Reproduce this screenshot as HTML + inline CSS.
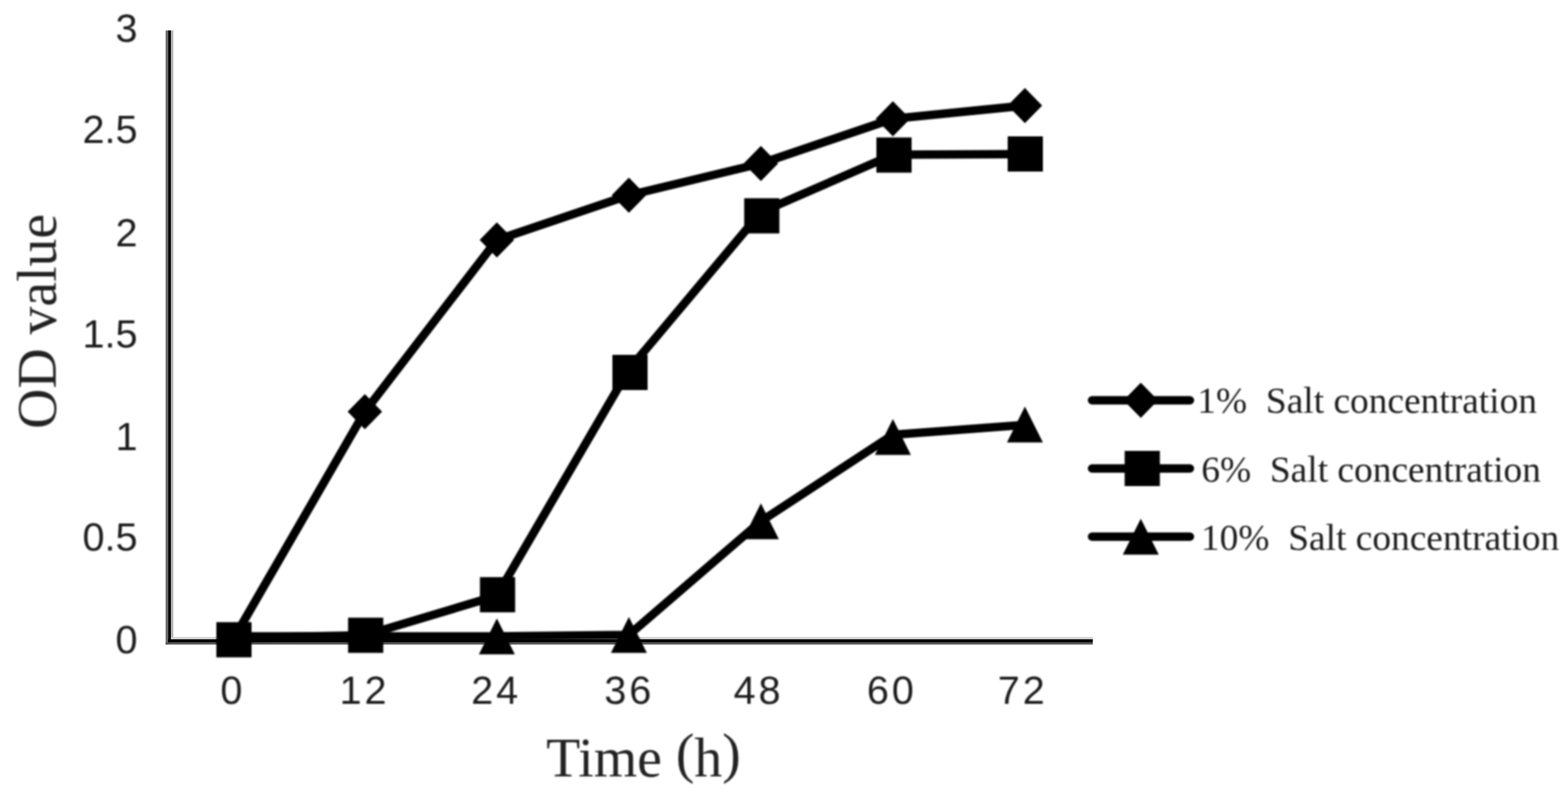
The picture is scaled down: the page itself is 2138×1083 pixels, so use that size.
<!DOCTYPE html>
<html lang="en">
<head>
<meta charset="utf-8">
<title>OD value vs Time (h) at different salt concentrations</title>
<style>
  html, body { margin: 0; padding: 0; background: #ffffff; }
  body { width: 2138px; height: 1083px; overflow: hidden; }
  svg { display: block; }
  .tick { font-family: "Liberation Sans", "DejaVu Sans", sans-serif; font-size: 54px; fill: #1c1c1c; }
  .xt { letter-spacing: 4px; }
  .title { font-family: "Liberation Serif", "DejaVu Serif", serif; font-size: 76px; fill: #222222; }
  .legend { font-family: "Liberation Serif", "DejaVu Serif", serif; font-size: 51px; fill: #1c1c1c; }
  .series { fill: none; stroke: #000; stroke-width: 11.5; stroke-linejoin: round; stroke-linecap: round; }
  .marker { fill: #000; stroke: none; }
  .axis { fill: #000; }
</style>
</head>
<body>
<svg width="2138" height="1083" viewBox="0 0 2138 1083">
<defs>
<filter id="soft" filterUnits="userSpaceOnUse" x="0" y="0" width="2138" height="1083" color-interpolation-filters="sRGB">
<feGaussianBlur stdDeviation="1.3"/>
</filter>
<filter id="soft2" filterUnits="userSpaceOnUse" x="0" y="0" width="2138" height="1083" color-interpolation-filters="sRGB">
<feGaussianBlur stdDeviation="0.6"/>
</filter>
</defs>
<rect x="0" y="0" width="2138" height="1083" fill="#ffffff"/>
<g id="chart">

<g id="axes" filter="url(#soft2)">
<rect x="225.8" y="41.5" width="3.5" height="837.7" fill="#6c6c6c"/>
<rect x="233" y="41.5" width="3.3" height="830.5" fill="#b0b0b0"/>
<rect x="229.2" y="868.9" width="1260.8" height="3.2" fill="#d0d0d0"/>
<rect x="225.8" y="876" width="1264.2" height="3.2" fill="#5a5a5a"/>
<rect x="229.2" y="41.5" width="3.8" height="834.6" fill="#000"/>
<rect x="229.2" y="872" width="1260.8" height="4.1" fill="#000"/>
</g>
<g id="content" filter="url(#soft)">
<text class="tick" x="187.5" y="890.7" text-anchor="end">0</text>
<text class="tick" x="187.5" y="750.7" text-anchor="end">0.5</text>
<text class="tick" x="187.5" y="613.7" text-anchor="end">1</text>
<text class="tick" x="187.5" y="473.7" text-anchor="end">1.5</text>
<text class="tick" x="187.5" y="336.2" text-anchor="end">2</text>
<text class="tick" x="187.5" y="195.0" text-anchor="end">2.5</text>
<text class="tick" x="187.5" y="56.7" text-anchor="end">3</text>
<text class="tick xt" x="317.4" y="959.5" text-anchor="middle">0</text>
<text class="tick xt" x="497.1" y="959.5" text-anchor="middle">12</text>
<text class="tick xt" x="676.5" y="959.5" text-anchor="middle">24</text>
<text class="tick xt" x="858.0" y="959.5" text-anchor="middle">36</text>
<text class="tick xt" x="1034.3" y="959.5" text-anchor="middle">48</text>
<text class="tick xt" x="1216.1" y="959.5" text-anchor="middle">60</text>
<text class="tick xt" x="1394.6" y="959.5" text-anchor="middle">72</text>
<polyline class="series" points="317.5,868.0 497.5,868.0 677.5,868.0 857.5,866.0 1037.5,711.0 1217.5,593.0 1397.5,579.5"/>
<g class="marker"><polygon points="677.5,843.5 702.0,892.5 653.0,892.5"/><polygon points="857.5,841.5 882.0,890.5 833.0,890.5"/><polygon points="1037.5,686.5 1062.0,735.5 1013.0,735.5"/><polygon points="1217.5,571.5 1242.0,620.5 1193.0,620.5"/><polygon points="1397.5,554.5 1422.0,603.5 1373.0,603.5"/></g>
<polyline class="series" points="317.5,873.0 497.5,561.4 677.5,327.2 857.5,266.3 1037.5,223.0 1217.5,162.0 1397.5,144.0"/>
<g class="marker"><polygon points="497.5,537.4 521.0,561.4 497.5,585.4 474.0,561.4"/><polygon points="677.5,303.2 701.0,327.2 677.5,351.2 654.0,327.2"/><polygon points="857.5,242.3 881.0,266.3 857.5,290.3 834.0,266.3"/><polygon points="1037.5,199.0 1061.0,223.0 1037.5,247.0 1014.0,223.0"/><polygon points="1217.5,138.0 1241.0,162.0 1217.5,186.0 1194.0,162.0"/><polygon points="1397.5,120.0 1421.0,144.0 1397.5,168.0 1374.0,144.0"/></g>
<polyline class="series" points="317.5,870.0 497.5,866.5 677.5,812.5 857.5,504.0 1037.5,289.5 1217.5,211.0 1397.5,210.2"/>
<g class="marker"><rect x="295.0" y="848.6" width="48.0" height="48.0"/><rect x="474.6" y="842.5" width="48.0" height="48.0"/><rect x="654.4" y="787.2" width="48.0" height="48.0"/><rect x="835.0" y="484.0" width="48.0" height="48.0"/><rect x="1014.7" y="270.4" width="48.0" height="48.0"/><rect x="1195.0" y="187.5" width="48.0" height="48.0"/><rect x="1374.0" y="186.0" width="48.0" height="48.0"/></g>
<line class="series" x1="1489" y1="546" x2="1622.5" y2="546"/>
<g class="marker"><polygon points="1555.5,522.0 1579.0,546.0 1555.5,570.0 1532.0,546.0"/></g>
<text class="legend" x="1632.6" y="563.2" xml:space="preserve">1%  Salt concentration</text>
<line class="series" x1="1489" y1="639" x2="1622.5" y2="639"/>
<g class="marker"><rect x="1533.5" y="615.0" width="48.0" height="48.0"/></g>
<text class="legend" x="1638" y="656.5" xml:space="preserve">6%  Salt concentration</text>
<line class="series" x1="1489" y1="732" x2="1622.5" y2="732"/>
<g class="marker"><polygon points="1555.5,707.5 1580.0,756.5 1531.0,756.5"/></g>
<text class="legend" x="1637.5" y="749.9" xml:space="preserve">10%  Salt concentration</text>
<text class="title" x="744.8" y="1058.5" dy="0 0 0 0 0 -6 6 -6">Time (h)</text>
<text class="title" transform="translate(76,585) rotate(-90)" x="0" y="0">OD value</text>
</g>
</g>
</svg>
</body>
</html>
